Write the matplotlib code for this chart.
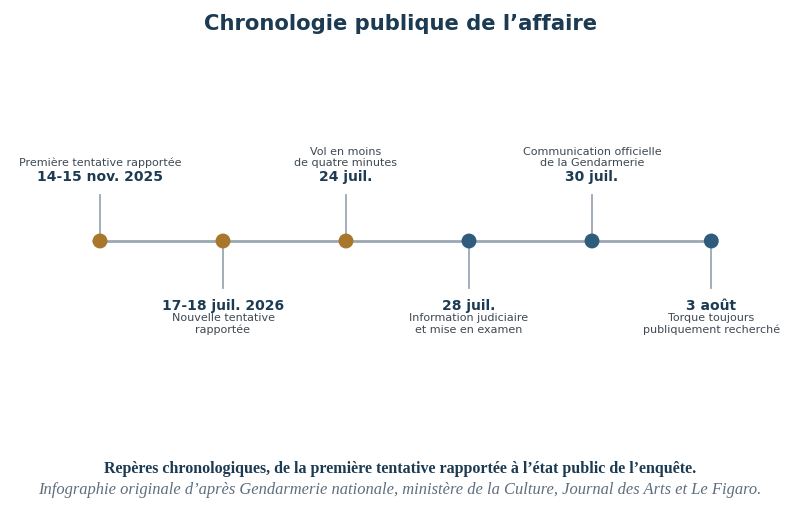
import matplotlib.pyplot as plt

# events along the timeline (positions in event-slot units)
dates = ["14-15 nov. 2025", "17-18 juil. 2026", "24 juil.", "28 juil.", "30 juil.", "3 août"]
descriptions = ["Première tentative rapportée", "Nouvelle tentative\nrapportée",
                "Vol en moins\nde quatre minutes", "Information judiciaire\net mise en examen",
                "Communication officielle\nde la Gendarmerie", "Torque toujours\npubliquement recherché"]
positions = [0, 1, 2, 3, 4, 4.97]
above = [True, False, True, False, True, False]
phase = ["avant", "avant", "avant", "après", "après", "après"]

GOLD = "#a8772b"
BLUE = "#2f5c7d"
NAVY = "#1c3b53"
GREY_TXT = "#3e4852"
LINE = "#9aa7b3"

fig = plt.figure(figsize=(8, 5.13), dpi=100)
ax = fig.add_axes([0, 0, 1, 1])
unit = 123.0
ax.set_xlim(-100 / unit, 700 / unit)
ax.set_ylim(513, 0)
ax.axis("off")

y0 = 241
ax.plot([positions[0] - 0.065, positions[-1] + 0.05], [y0, y0], color=LINE, lw=2, zorder=1,
        solid_capstyle="butt")

for x, d, desc, up, ph in zip(positions, dates, descriptions, above, phase):
    c = GOLD if ph == "avant" else BLUE
    if up:
        ax.plot([x, x], [195, y0], color=LINE, lw=1.3, zorder=1)
        ax.text(x, 181, d, ha="center", va="baseline", fontsize=10, fontweight="bold", color=NAVY)
        ax.text(x, 166.5, desc, ha="center", va="baseline", fontsize=8, color=GREY_TXT,
                linespacing=1.2)
    else:
        ax.plot([x, x], [y0, 288], color=LINE, lw=1.3, zorder=1)
        ax.text(x, 310, d, ha="center", va="baseline", fontsize=10, fontweight="bold", color=NAVY)
        ax.text(x, 313, desc, ha="center", va="top", fontsize=8, color=GREY_TXT,
                linespacing=1.2)
    ax.scatter([x], [y0], s=115, color=c, zorder=3, edgecolors="none")

fig.text(0.5, 1 - 24 / 513, "Chronologie publique de l’affaire", ha="center", va="center",
         fontsize=15.2, fontweight="bold", color=NAVY)
fig.text(0.5, 1 - 469 / 513,
         "Repères chronologiques, de la première tentative rapportée à l’état public de l’enquête.",
         ha="center", va="center", fontsize=11.5, fontweight="bold", color=NAVY,
         family="Liberation Serif")
fig.text(0.5, 1 - 490 / 513,
         "Infographie originale d’après Gendarmerie nationale, ministère de la Culture, Journal des Arts et Le Figaro.",
         ha="center", va="center", fontsize=11.9, style="italic", color="#5e6e7d",
         family="Liberation Serif")

fig.savefig("out.png", dpi=100)
